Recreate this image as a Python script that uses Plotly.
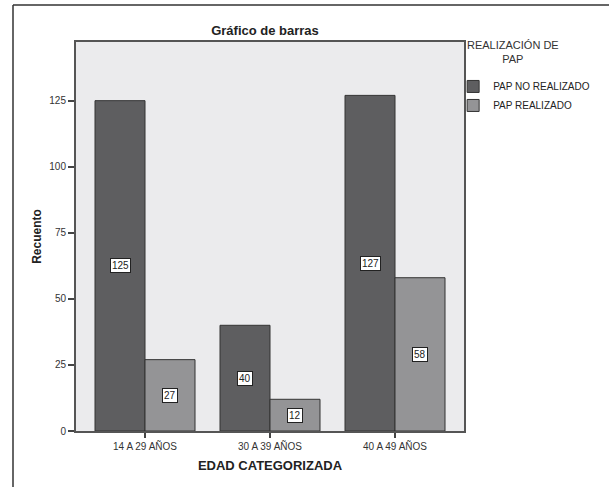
import plotly.graph_objects as go

categories = ["14 A 29 AÑOS", "30 A 39 AÑOS", "40 A 49 AÑOS"]
no_realizado = [125, 40, 127]
realizado = [27, 12, 58]
y_ticks = [0, 25, 50, 75, 100, 125]

FONT = "Liberation Sans, Arial"
DARK = "#5e5e60"
LIGHT = "#949496"

W, H = 609, 487
L, R, T, B = 76, 145, 42, 55.5
PW, PH = W - L - R, H - T - B

fig = go.Figure()
fig.add_trace(go.Bar(x=categories, y=no_realizado, name="PAP NO REALIZADO",
                     marker=dict(color=DARK, line=dict(color="#333333", width=1))))
fig.add_trace(go.Bar(x=categories, y=realizado, name="PAP REALIZADO",
                     marker=dict(color=LIGHT, line=dict(color="#333333", width=1))))

# value labels in boxes at half bar height
for series, off in ((no_realizado, -0.2), (realizado, 0.2)):
    for i, v in enumerate(series):
        fig.add_annotation(x=i + off, y=v / 2, xref="x", yref="y", text=str(v),
                           showarrow=False, bgcolor="white", bordercolor="#222222",
                           borderwidth=1, borderpad=1,
                           font=dict(family=FONT, size=10, color="#222222"))

# legend title as centred text
fig.add_annotation(xref="paper", yref="paper", x=(513 - L) / PW, y=(H - B - 52) / PH,
                   text="REALIZACIÓN DE<br>PAP", showarrow=False, align="center",
                   xanchor="center", yanchor="middle",
                   font=dict(family=FONT, size=11, color="#333333"))

# outer frame (cropped)
fx = (13 - L) / PW
fy = (H - B - 5) / PH
fig.add_shape(type="line", xref="paper", yref="paper", x0=fx, x1=fx, y0=-1, y1=fy,
              line=dict(color="#333333", width=1.5))
fig.add_shape(type="line", xref="paper", yref="paper", x0=fx, x1=2, y0=fy, y1=fy,
              line=dict(color="#333333", width=1.5))

fig.update_layout(
    width=W, height=H,
    margin=dict(l=L, r=R, t=T, b=B, autoexpand=False),
    paper_bgcolor="white",
    plot_bgcolor="#ebebed",
    barmode="group",
    bargap=0.2,
    bargroupgap=0,
    title=dict(text="<b>Gráfico de barras</b>", x=265 / W, xanchor="center",
               y=1 - 30 / H, yanchor="middle",
               font=dict(family=FONT, size=13, color="#222222")),
    font=dict(family=FONT, size=10, color="#333333"),
    legend=dict(
        x=0.972, xanchor="left", y=(H - B - 72) / PH, yanchor="top",
        font=dict(family=FONT, size=10, color="#222222"),
        tracegroupgap=0, bgcolor="rgba(0,0,0,0)",
    ),
    xaxis=dict(
        range=[-0.552, 2.552],
        showline=True, linecolor="#555555", linewidth=2, mirror=True,
        ticks="outside", ticklen=5, tickcolor="#444444", tickwidth=1.5,
        tickfont=dict(family=FONT, size=10, color="#333333"),
        title=dict(text="<b>EDAD CATEGORIZADA</b>", standoff=10,
                   font=dict(family=FONT, size=13, color="#222222")),
        showgrid=False,
    ),
    yaxis=dict(
        range=[0, 147.2],
        tickvals=y_ticks,
        showline=True, linecolor="#555555", linewidth=2, mirror=True,
        ticks="outside", ticklen=6, tickcolor="#444444", tickwidth=1.5,
        tickfont=dict(family=FONT, size=10, color="#333333"),
        title=dict(text="<b>Recuento</b>", standoff=5,
                   font=dict(family=FONT, size=12, color="#222222")),
        showgrid=False, zeroline=False,
    ),
)

fig.write_html("out.html", config={"displayModeBar": False},
               post_script="document.body.style.margin='0';")
